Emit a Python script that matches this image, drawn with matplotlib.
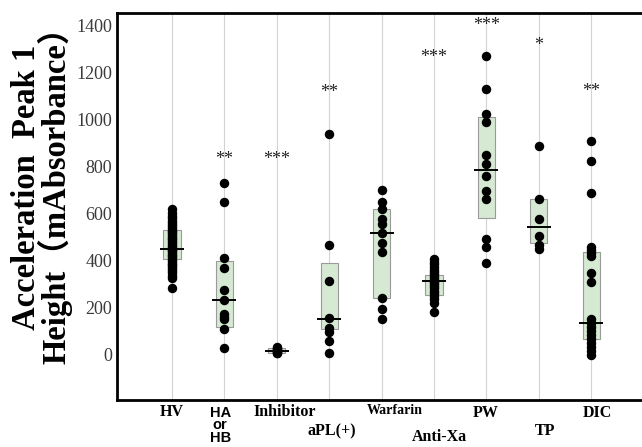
import matplotlib.pyplot as plt
import numpy as np

# data
groups = ['HV', 'HA\nor\nHB', 'Inhibitor', 'aPL(+)', 'Warfarin', 'Anti-Xa', 'PW', 'TP', 'DIC']
points = [
    [619, 602, 590, 581, 570, 560, 552, 543, 535, 527, 520, 512, 505, 497, 490,
     483, 475, 468, 460, 455, 450, 445, 440, 432, 425, 418, 410, 402, 395, 388,
     380, 372, 365, 356, 348, 337, 327, 284],
    [730, 649, 412, 369, 276, 233, 174, 161, 153, 110, 30],
    [32, 28, 24, 20, 17, 13, 10, 7],
    [938, 467, 314, 157, 115, 98, 59, 8],
    [700, 649, 619, 577, 556, 517, 475, 437, 242, 195, 153],
    [407, 395, 384, 372, 362, 352, 343, 335, 328, 320, 314, 308, 300, 292, 283,
     272, 262, 250, 238, 222, 182],
    [1268, 1129, 1022, 989, 849, 810, 759, 696, 662, 492, 458, 390],
    [887, 662, 577, 505, 467, 450],
    [908, 823, 687, 458, 445, 433, 420, 348, 310, 153, 136, 119, 102, 85, 68,
     51, 34, 17, 0],
]
q1 = [407, 119, 8, 110, 242, 254, 581, 475, 68]
q3 = [530, 399, 28, 390, 619, 339, 1010, 662, 437]
medians = [450, 233, 18, 153, 517, 314, 785, 543, 134]
sig = ['', '**', '***', '**', '', '***', '***', '*', '**']
sig_y = [0, 831, 831, 1112, 0, 1264, 1396, 1311, 1116]

# label placement (x offset in category units, y in axes fraction)
label_dx = [0, -0.08, 0.16, 0.05, 0.26, 0.11, -0.01, 0.12, 0.11]
label_y = [-0.031, -0.065, -0.031, -0.08, -0.027, -0.096, -0.033, -0.08, -0.033]

fig = plt.figure(figsize=(6.42, 4.47), dpi=100)
ax = fig.add_axes([117 / 642, 47 / 447, 1 - 117 / 642, 387 / 447])

x = np.arange(len(groups))
ax.bar(x, np.array(q3) - np.array(q1), bottom=q1, width=0.33,
       color='#d6e9d3', edgecolor='#9a9a9a', linewidth=0.8, zorder=2)
ax.hlines(medians, x - 0.23, x + 0.23, color='black', linewidth=1.4, zorder=4)
for i, vals in enumerate(points):
    ax.plot([i] * len(vals), vals, 'o', color='black', markersize=5.8, zorder=3)
    if sig[i]:
        ax.text(i, sig_y[i], sig[i], ha='center', va='center', fontsize=13,
                family='Liberation Serif', color='#222222')

for i, g in enumerate(groups):
    if '\n' in g:
        ax.text(i + label_dx[i], label_y[i], g, transform=ax.get_xaxis_transform(),
                ha='center', va='center', fontsize=10.5, fontweight='bold',
                family='Liberation Sans', linespacing=0.85)
    else:
        ax.text(i + label_dx[i], label_y[i], g, transform=ax.get_xaxis_transform(),
                ha='center', va='center', fontweight='bold', family='Liberation Serif',
                fontsize=10 if g == 'Warfarin' else 11.5)

ax.set_xlim(-1.05, 8.97)
ax.set_ylim(-191, 1451)
ax.set_xticks(x)
ax.set_xticklabels([])
ax.set_yticks(np.arange(0, 1401, 200))
ax.tick_params(length=0)
for lab in ax.get_yticklabels():
    lab.set_family('Liberation Serif')
    lab.set_fontsize(13)
    lab.set_color('#3a3a3a')
ax.grid(axis='x', color='#d3d3d3', linewidth=0.8, zorder=0)
ax.set_axisbelow(True)
for s in ['left', 'top', 'bottom']:
    ax.spines[s].set_linewidth(2)
    ax.spines[s].set_color('black')
ax.spines['right'].set_visible(False)

fig.text(42 / 642, 1 - 187 / 447, 'Acceleration  Peak 1\nHeight\uff08mAbsorbance\uff09',
         rotation=90, ha='center', va='center', multialignment='center',
         fontsize=23.5, fontweight='bold', linespacing=0.85,
         family=['Liberation Serif', 'Noto Sans CJK JP'])

fig.savefig('out.png', dpi=100)
